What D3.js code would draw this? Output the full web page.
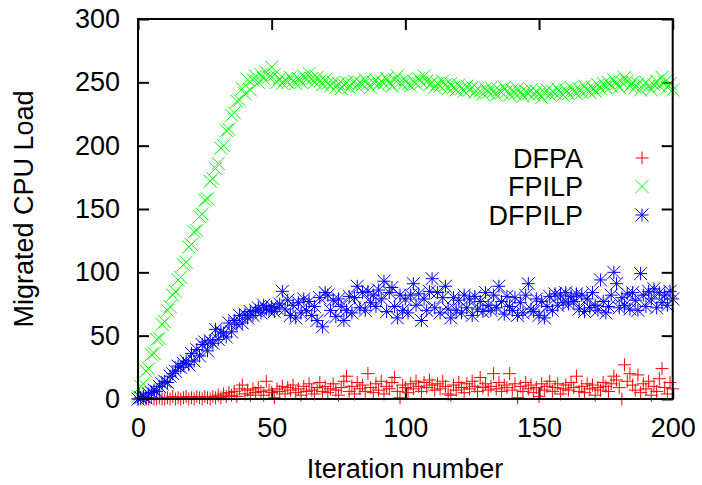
<!DOCTYPE html>
<html lang="en">
  <head>
    <meta charset="UTF-8" />
    <script src="https://cdn.jsdelivr.net/npm/d3@7"></script>
    <title>Migrated CPU Load</title>
    <style>
      body {
        margin: 0;
        background: white;
      }
      text {
        font-family: "Liberation Sans", Arial, sans-serif;
        font-size: 27px;
        fill: black;
      }
    </style>
  </head>
  <body>
    <script>
      /*------------------- data --------------------------------------------*/
      // one value per iteration, 0..200
      const dfpa = [
        0, 0, 1, 0, 0, 1, 0, 0, 1, 0, 0, 1, 0, 2, 0, 1, 0, 1, 2, 0,
        1, 0, 2, 1, 0, 2, 1, 0, 2, 1, 3, 1, 4, 2, 5, 3, 6, 2, 8, 11,
        4, 7, 3, 8, 5, 9, 6, 3, 14, 7, 5, 1, 8, 6, 10, 4, 9, 7, 11, 5,
        8, 3, 10, 6, 12, 7, 4, 9, 13, 6, 10, 5, 8, 12, 7, 3, 9, 14, 18, 6,
        10, 4, 13, 8, 11, 6, 20, 9, 5, 12, 7, 14, 4, 10, 8, 13, 17, 6, 1, 11,
        9, 5, 12, 8, 14, 10, 6, 13, 9, 15, 11, 7, 12, 8, 14, 10, 4, 3, 11, 7,
        13, 9, 5, 12, 8, 14, 10, 6, 17, 9, 12, 7, 10, 20, 8, 13, 6, 11, 9, 20,
        7, 12, 1, 10, 6, 13, 8, 11, 5, 9, 2, 12, 7, 10, 14, 6, 9, 12, 4, 8,
        11, 7, 13, 9, 18, 6, 10, 5, 12, 8, 11, 3, 9, 7, 13, 10, 6, 12, 18, 15,
        9, 0, 27, 14, 20, 11, 7, 19, 5, 12, 8, 14, 3, 10, 6, 16, 24, 9, 4, 13,
        8,
      ];
      const fpilp = [
        2, 10, 12, 22, 24, 35, 36, 47, 48, 59, 61, 70, 73, 82, 85, 94, 96, 106, 108, 120,
        122, 132, 133, 144, 146, 157, 158, 172, 174, 182, 186, 198, 200, 212, 213, 224, 226, 235, 236, 245,
        241, 252, 244, 252, 255, 250, 256, 253, 258, 254, 262, 256, 250, 253, 249, 252, 250, 254, 251, 249,
        253, 250, 255, 252, 257, 253, 250, 254, 251, 248, 252, 249, 247, 250, 246, 249, 245, 248, 250, 246,
        249, 251, 247, 250, 248, 252, 249, 246, 250, 252, 248, 251, 249, 253, 250, 247, 252, 255, 250, 248,
        252, 249, 247, 251, 249, 253, 250, 255, 251, 248, 250, 246, 249, 247, 251, 248, 245, 249, 246, 244,
        248, 245, 243, 247, 244, 246, 242, 245, 243, 241, 245, 242, 246, 243, 240, 244, 242, 246, 243, 240,
        244, 241, 245, 242, 239, 243, 241, 244, 240, 243, 241, 238, 242, 244, 240, 243, 241, 245, 242, 240,
        244, 241, 246, 243, 241, 245, 242, 247, 244, 242, 246, 243, 248, 245, 249, 246, 250, 247, 252, 249,
        246, 250, 254, 251, 247, 250, 246, 249, 244, 248, 250, 247, 244, 248, 251, 247, 254, 250, 246, 249,
        244,
      ];
      const dfpilp = [
        0, 1, 2, 1, 4, 5, 7, 6, 10, 12, 14, 13, 18, 20, 22, 26, 25, 28, 30, 27,
        36, 30, 39, 34, 43, 45, 38, 46, 44, 55, 47, 53, 52, 49, 60, 53, 62, 59, 66, 60,
        67, 64, 69, 66, 70, 72, 68, 74, 71, 70, 73, 69, 72, 75, 85, 71, 78, 66, 74, 64,
        76, 68, 79, 70, 77, 66, 73, 62, 80, 57, 84, 82, 70, 78, 65, 79, 73, 62, 70, 81,
        68, 80, 89, 72, 84, 70, 85, 76, 82, 73, 86, 79, 93, 69, 84, 88, 73, 64, 82, 70,
        79, 68, 82, 91, 74, 83, 62, 79, 70, 85, 95, 72, 84, 68, 80, 89, 71, 64, 80, 70,
        78, 68, 82, 72, 79, 66, 81, 71, 77, 69, 84, 74, 70, 82, 72, 89, 77, 67, 81, 73,
        70, 80, 66, 76, 68, 82, 91, 71, 69, 79, 66, 77, 64, 73, 81, 70, 83, 74, 82, 76,
        84, 75, 81, 77, 83, 71, 82, 69, 79, 72, 84, 74, 70, 94, 77, 68, 73, 82, 100, 91,
        72, 80, 74, 83, 71, 84, 78, 70, 99, 82, 73, 85, 79, 87, 72, 84, 76, 82, 74, 85,
        79,
      ];
      const seriesNames = ["DFPA", "FPILP", "DFPILP"];
      const seriesColors = ["#ff0000", "#00ff00", "#0000ff"];
      const seriesShapes = ["plus", "cross", "star"];
      const xTicks = [0, 50, 100, 150, 200];
      const yTicks = [0, 50, 100, 150, 200, 250, 300];

      /*------------------- layout --------------------*/
      const width = 702;
      const height = 485;
      const plot = { left: 138, top: 19, right: 672.7, bottom: 399 };

      const x = d3.scaleLinear().domain([0, 200]).range([plot.left, plot.right]);
      const y = d3.scaleLinear().domain([0, 300]).range([plot.bottom, plot.top]);

      const svg = d3
        .select("body")
        .append("svg")
        .attr("width", width)
        .attr("height", height);

      // marker paths, gnuplot style point types 1,2,3
      const r = 6.5;
      const shapes = {
        plus: `M${-r},0H${r}M0,${-r}V${r}`,
        cross: `M${-r},${-r}L${r},${r}M${-r},${r}L${r},${-r}`,
        star: `M${-r},0H${r}M0,${-r}V${r}M${-r},${-r}L${r},${r}M${-r},${r}L${r},${-r}`,
      };

      /*------------------- axes --------------------*/
      const tickLen = 11;
      const axisStyle = (g) => {
        g.select(".domain").remove();
        g.selectAll(".tick line").attr("stroke", "black").attr("stroke-width", 2);
        g.selectAll(".tick text")
          .attr("font-family", "Liberation Sans, Arial, sans-serif")
          .attr("font-size", 27)
          .attr("fill", "black");
      };

      svg
        .append("g")
        .attr("transform", `translate(0,${plot.bottom})`)
        .call(d3.axisBottom(x).tickValues(xTicks).tickSize(-tickLen).tickPadding(19))
        .call(axisStyle);
      svg
        .append("g")
        .attr("transform", `translate(0,${plot.top})`)
        .call(d3.axisTop(x).tickValues(xTicks).tickSize(-tickLen).tickFormat(""))
        .call(axisStyle);
      svg
        .append("g")
        .attr("transform", `translate(${plot.left},0)`)
        .call(d3.axisLeft(y).tickValues(yTicks).tickSize(-tickLen).tickPadding(18))
        .call(axisStyle);
      svg
        .append("g")
        .attr("transform", `translate(${plot.right},0)`)
        .call(d3.axisRight(y).tickValues(yTicks).tickSize(-tickLen).tickFormat(""))
        .call(axisStyle);

      /*------------------- points --------------------*/
      const allSeries = [dfpa, fpilp, dfpilp];
      allSeries.forEach((values, i) => {
        svg
          .append("g")
          .selectAll("path")
          .data(values)
          .enter()
          .append("path")
          .attr("d", shapes[seriesShapes[i]])
          .attr("transform", (d, k) => `translate(${x(k)},${y(d)})`)
          .attr("fill", "none")
          .attr("stroke", seriesColors[i])
          .attr("stroke-width", 1);
      });

      // frame on top
      svg
        .append("rect")
        .attr("x", plot.left)
        .attr("y", plot.top)
        .attr("width", plot.right - plot.left)
        .attr("height", plot.bottom - plot.top)
        .attr("fill", "none")
        .attr("stroke", "black")
        .attr("stroke-width", 2);

      /*------------------- legend --------------------*/
      const legend = svg
        .append("g")
        .selectAll("g")
        .data(seriesNames)
        .enter()
        .append("g")
        .attr("transform", (d, i) => `translate(0,${158 + i * 28.5})`);
      legend
        .append("text")
        .attr("x", 583)
        .attr("dy", "0.36em")
        .attr("text-anchor", "end")
        .text((d) => d);
      legend
        .append("path")
        .attr("d", (d, i) => shapes[seriesShapes[i]])
        .attr("transform", "translate(642,0)")
        .attr("fill", "none")
        .attr("stroke", (d, i) => seriesColors[i])
        .attr("stroke-width", 1);

      /*------------------- axis titles --------------------*/
      svg
        .append("text")
        .attr("x", 405)
        .attr("y", 478)
        .attr("text-anchor", "middle")
        .text("Iteration number");
      svg
        .append("text")
        .attr("transform", "translate(23,209) rotate(-90)")
        .attr("dy", "0.36em")
        .attr("text-anchor", "middle")
        .text("Migrated CPU Load");
    </script>
  </body>
</html>
